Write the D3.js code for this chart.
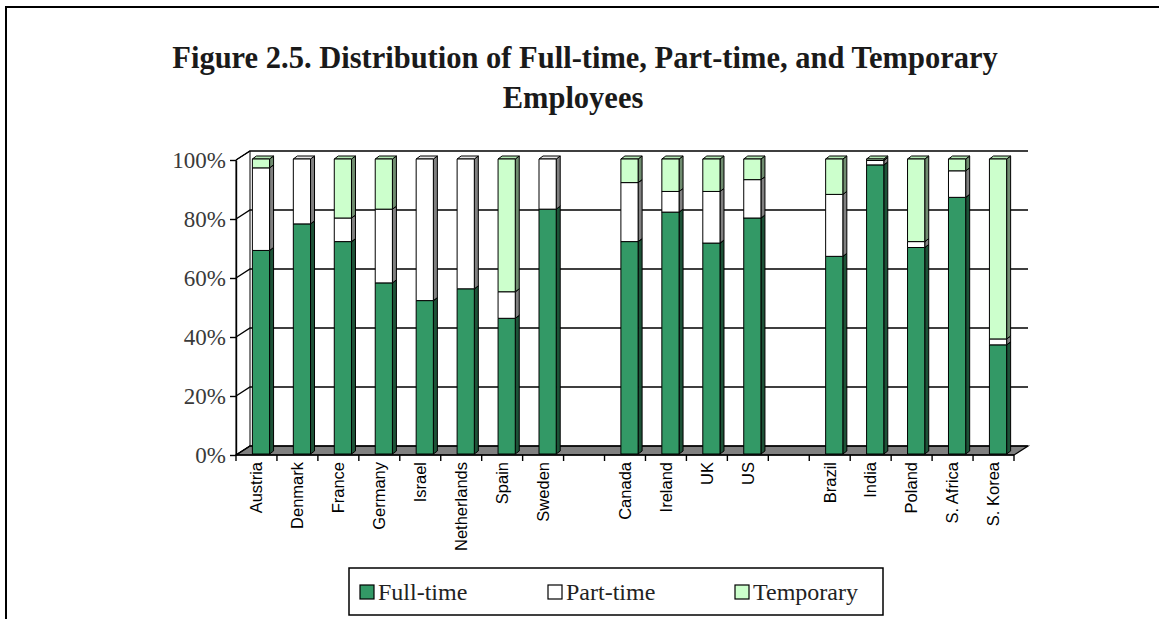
<!DOCTYPE html>
<html>
<head>
<meta charset="utf-8">
<script src="https://cdn.jsdelivr.net/npm/d3@7"></script>
<style>
  body { margin: 0; background: #fff; }
  svg { display: block; }
</style>
</head>
<body>
<svg></svg>
<script>
// categories, "" = empty slot between groups
const categories = ["Austria", "Denmark", "France", "Germany", "Israel", "Netherlands", "Spain", "Sweden", "",
                    "Canada", "Ireland", "UK", "US", "",
                    "Brazil", "India", "Poland", "S. Africa", "S. Korea"];
const fullTime  = [69, 78, 72, 58, 52, 56, 46, 83, null, 72, 82, 71.5, 80, null, 67, 98, 70, 87, 37];
const partTime  = [28, 22, 8, 25, 48, 44, 9, 17, null, 20, 7, 17.5, 13, null, 21, 1.5, 2, 9, 2];
const temporary = [3, 0, 20, 17, 0, 0, 45, 0, null, 8, 11, 11, 7, null, 12, 0.5, 28, 4, 61];
const seriesNames = ["Full-time", "Part-time", "Temporary"];
const yTicks = [0, 20, 40, 60, 80, 100];
const titleLines = ["Figure 2.5. Distribution of Full-time, Part-time, and Temporary", "Employees"];

const width = 1159;
const height = 619;
const plot = { left: 236, right: 1014, top: 160, bottom: 455 };
const depth = { dx: 14, dy: -9 };

const colors = {
    "Full-time": { front: "#339966", side: "#1d5237", top: "#2a7f55" },
    "Part-time": { front: "#ffffff", side: "#808080", top: "#e6e6e6" },
    "Temporary": { front: "#ccffcc", side: "#6f8c6f", top: "#b3e6b3" }
};

const serif = "'Liberation Serif', 'Times New Roman', serif";
const sans = "'Liberation Sans', Arial, sans-serif";

let svg = d3.select("svg")
    .attr("width", width)
    .attr("height", height);

svg.append("rect").attr("width", width).attr("height", height).attr("fill", "#fff");

// page frame (left and top edge)
svg.append("path")
    .attr("d", `M6,${height} L6,7 L${width},7`)
    .attr("fill", "none")
    .attr("stroke", "#000")
    .attr("stroke-width", 2);

// title
svg.append("text")
    .attr("x", 585).attr("y", 68)
    .attr("text-anchor", "middle")
    .style("font-family", serif).style("font-weight", "bold").style("font-size", "30.5px")
    .attr("fill", "#1a1a1a")
    .text(titleLines[0]);
svg.append("text")
    .attr("x", 573).attr("y", 108)
    .attr("text-anchor", "middle")
    .style("font-family", serif).style("font-weight", "bold").style("font-size", "30.5px")
    .attr("fill", "#1a1a1a")
    .text(titleLines[1]);

let xScale = d3.scaleBand()
    .domain(d3.range(categories.length))
    .range([plot.left, plot.right]);

let yScale = d3.scaleLinear()
    .domain([0, 100])
    .range([plot.bottom, plot.top]);

const step = xScale.step();

// walls
let walls = svg.append("g");
// left side wall
walls.append("path")
    .attr("d", `M${plot.left},${plot.top} L${plot.left + depth.dx},${plot.top + depth.dy} L${plot.left + depth.dx},${plot.bottom + depth.dy} L${plot.left},${plot.bottom} Z`)
    .attr("fill", "#fff").attr("stroke", "#000").attr("stroke-width", 1);
// floor
walls.append("path")
    .attr("d", `M${plot.left},${plot.bottom} L${plot.right},${plot.bottom} L${plot.right + depth.dx},${plot.bottom + depth.dy} L${plot.left + depth.dx},${plot.bottom + depth.dy} Z`)
    .attr("fill", "#808080").attr("stroke", "#000").attr("stroke-width", 1.2);

// gridlines: diagonal on side wall + across back wall
walls.selectAll(".grid")
    .data(yTicks)
    .enter()
    .append("path")
    .attr("class", "grid")
    .attr("d", d => {
        let y = yScale(d);
        return `M${plot.left},${y} L${plot.left + depth.dx},${y + depth.dy} L${plot.right + depth.dx},${y + depth.dy}`;
    })
    .attr("fill", "none")
    .attr("stroke", "#000")
    .attr("stroke-width", 1.4);

// bars
let table = categories.map((c, i) => ({
    i: i,
    "Full-time": fullTime[i],
    "Part-time": partTime[i],
    "Temporary": temporary[i]
})).filter(d => d["Full-time"] !== null);

let stacked = d3.stack().keys(seriesNames)(table);

const barOff = step * 0.4;
const barW = step * 0.42;
const side = { dx: 4, dy: -3 };
const lift = -1;

let bars = svg.append("g");
table.forEach(row => {
    seriesNames.forEach((key, k) => {
        let seg = stacked[k].find(s => s.data.i === row.i);
        if (seg[1] - seg[0] <= 0) return;
        let x0 = xScale(row.i) + barOff;
        let x1 = x0 + barW;
        let yb = yScale(seg[0]) + lift;
        let yt = yScale(seg[1]) + lift;
        let g = bars.append("g").attr("stroke", "#000").attr("stroke-width", 1).attr("stroke-linejoin", "round");
        g.append("path")
            .attr("d", `M${x1},${yt} L${x1 + side.dx},${yt + side.dy} L${x1 + side.dx},${yb + side.dy} L${x1},${yb} Z`)
            .attr("fill", colors[key].side);
        g.append("path")
            .attr("d", `M${x0},${yt} L${x0 + side.dx},${yt + side.dy} L${x1 + side.dx},${yt + side.dy} L${x1},${yt} Z`)
            .attr("fill", colors[key].top);
        g.append("rect")
            .attr("x", x0).attr("y", yt)
            .attr("width", barW).attr("height", yb - yt)
            .attr("fill", colors[key].front);
    });
});

// y axis
let yAxis = d3.axisLeft(yScale)
    .tickValues(yTicks)
    .tickFormat(d => d + "%")
    .tickSize(6)
    .tickSizeOuter(0);

let yG = svg.append("g")
    .attr("transform", `translate(${plot.left},0)`)
    .call(yAxis);
yG.select(".domain").attr("stroke", "#000").attr("stroke-width", 1.4);
yG.selectAll(".tick line").attr("stroke", "#000").attr("stroke-width", 1.4);
yG.selectAll("text")
    .attr("x", -10)
    .style("font-family", serif)
    .style("font-size", "23px")
    .attr("fill", "#3a3a3a");

// x axis labels
let xAxis = d3.axisBottom(xScale)
    .tickFormat(i => categories[i])
    .tickSize(0)
    .tickSizeOuter(0);

let xG = svg.append("g")
    .attr("transform", `translate(0,${plot.bottom})`)
    .call(xAxis);
xG.select(".domain").remove();
xG.selectAll("text")
    .attr("transform", "rotate(-90)")
    .attr("x", -7)
    .attr("y", 0)
    .attr("dy", "0.35em")
    .attr("text-anchor", "end")
    .style("font-family", sans)
    .style("font-size", "16.5px")
    .attr("fill", "#000");

// x boundary ticks
svg.append("g")
    .selectAll("line")
    .data(d3.range(categories.length + 1))
    .enter()
    .append("line")
    .attr("x1", i => plot.left + i * step)
    .attr("x2", i => plot.left + i * step)
    .attr("y1", plot.bottom)
    .attr("y2", plot.bottom + 6)
    .attr("stroke", "#000")
    .attr("stroke-width", 1.4);

svg.append("line")
    .attr("x1", plot.left).attr("x2", plot.right)
    .attr("y1", plot.bottom).attr("y2", plot.bottom)
    .attr("stroke", "#000").attr("stroke-width", 1.4);

// legend
let legend = svg.append("g");
legend.append("rect")
    .attr("x", 349).attr("y", 568)
    .attr("width", 534).attr("height", 47)
    .attr("fill", "#fff").attr("stroke", "#000").attr("stroke-width", 1.5);

const legendX = [360, 548, 735];
let items = legend.selectAll(".item")
    .data(seriesNames)
    .enter()
    .append("g")
    .attr("class", "item")
    .attr("transform", (d, i) => `translate(${legendX[i]},585)`);
items.append("rect")
    .attr("width", 14).attr("height", 14)
    .attr("fill", d => colors[d].front)
    .attr("stroke", "#000").attr("stroke-width", 1.2);
items.append("text")
    .attr("x", 18).attr("y", 15)
    .style("font-family", serif)
    .style("font-size", "24px")
    .attr("fill", "#222")
    .text(d => d);
</script>
</body>
</html>
